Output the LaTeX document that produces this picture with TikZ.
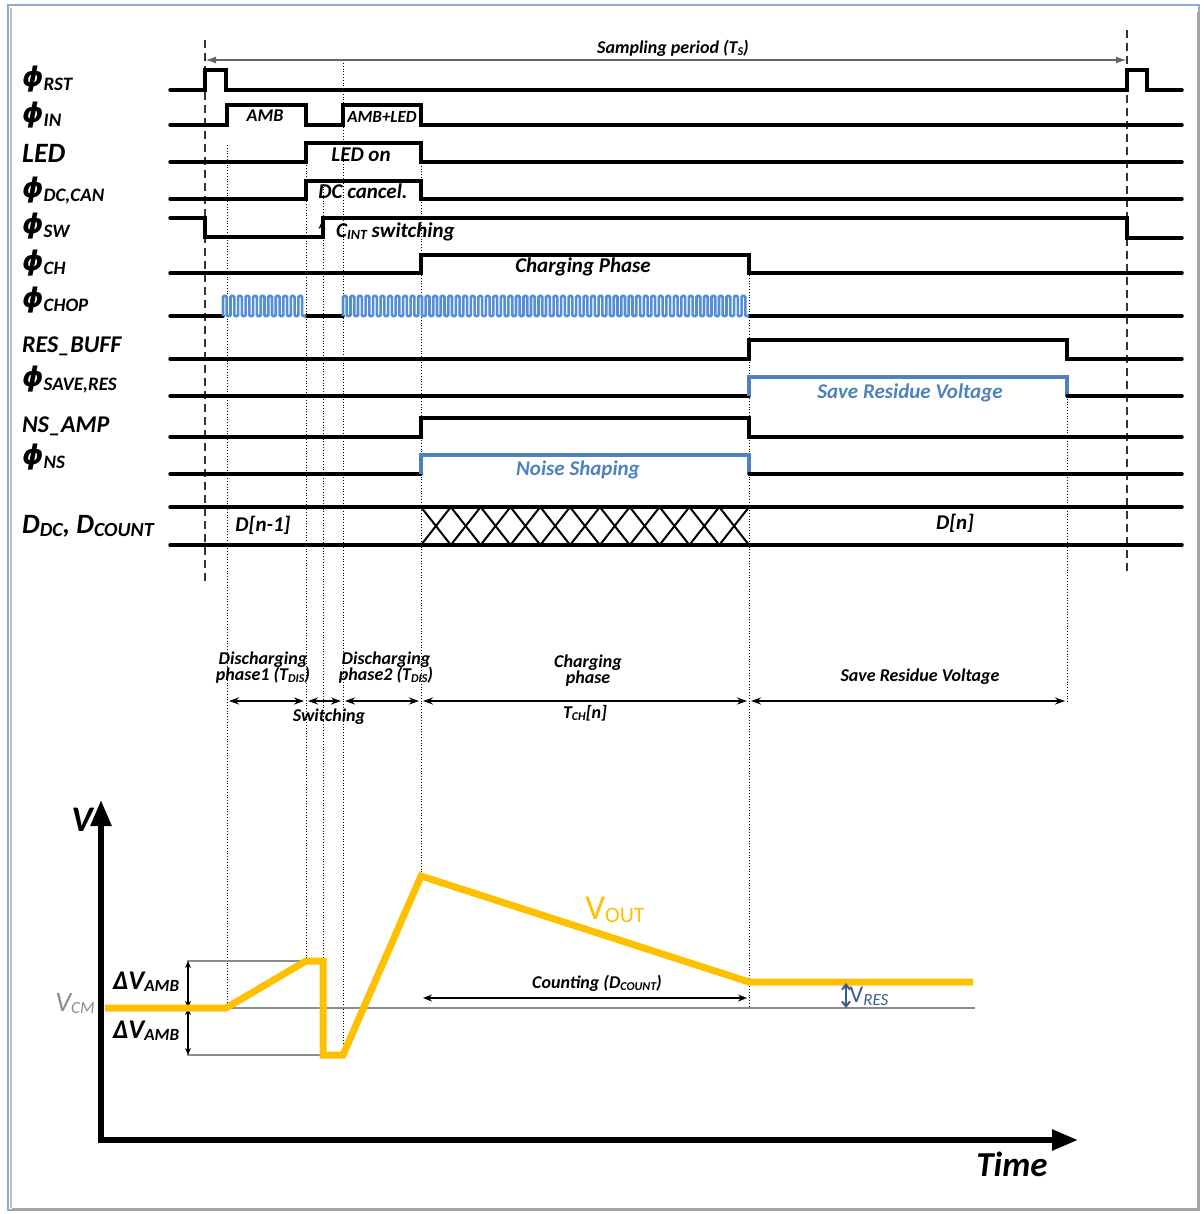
\documentclass[tikz,border=0pt]{standalone}
\usepackage{fontspec}
\setmainfont{Carlito}
\newfontfamily\phif{DejaVu Sans}
\usetikzlibrary{arrows.meta}
\definecolor{chopc}{RGB}{85,142,213}
\definecolor{blt}{RGB}{79,129,189}
\definecolor{yel}{RGB}{255,192,0}
\definecolor{grl}{RGB}{140,140,140}
\definecolor{vres}{RGB}{59,91,140}
\definecolor{frameb}{RGB}{143,170,210}
\newcommand\fs[1]{\fontsize{#1}{#1}\selectfont}
\newcommand\ph{{\phif\fs{27}\bfseries\itshape ϕ}}
\newcommand\sbx[1]{\raisebox{-4pt}{\fs{19}#1}}
\newcommand\ssb[2]{\raisebox{-2pt}{\fs{#1}#2}}
\begin{document}
\begin{tikzpicture}[x=1pt,y=-1pt,
  sig/.style={line width=3.5pt,black,line cap=round,line join=miter},
  bsig/.style={line width=3.2pt,blt,line join=miter},
  chopw/.style={line width=2.6pt,chopc,rounded corners=1pt},
  hatch/.style={line width=2pt,black},
  dotl/.style={line width=0.8pt,black,dotted},
  dashl/.style={line width=1.4pt,black!80,dash pattern=on 8pt off 5pt},
  rl/.style={anchor=base west,inner sep=0pt,font=\fs{26}\bfseries\itshape},
  it/.style={inner sep=0pt,font=\fs{21}\bfseries\itshape},
  pl/.style={inner sep=0pt,font=\fs{18}\bfseries\itshape,align=center},
  parr/.style={line width=2.2pt,{Stealth[length=10pt,width=7pt]}-{Stealth[length=10pt,width=7pt]},shorten <=2pt,shorten >=2pt},
  axis/.style={line width=5.5pt,-{Triangle[length=26pt,width=20pt]}},
  grayl/.style={line width=2.5pt,grl},
]
\useasboundingbox (0,0) rectangle (1203,1214);
% frame
\draw[line width=1.2pt,frameb] (8,5) rectangle (1199,1210);
\draw[line width=3pt,black!35] (1198,12) -- (1198,1209) -- (12,1209);
\draw[line width=2pt,black!25] (11,8) -- (11,1208);

% dashed period lines
\coordinate (ts0) at (205,60);
\coordinate (ts1) at (1127,60);
\draw[dashl] (205,40) -- (205,583);
\draw[dashl] (1127,30) -- (1127,572);
\draw[line width=1.8pt,black!60,{Latex[length=11pt,width=7pt]}-{Latex[length=11pt,width=7pt]}] (ts0) -- (ts1);
\node[pl] (tsl) at (673,48) {Sampling period (T\ssb{12}{S})};

% dotted vertical lines
\draw[dotl] (227,145) -- (227,1008);
\draw[dotl] (306,165) -- (306,958);
\draw[dotl] (323,181) -- (323,958);
\draw[dotl] (343,63) -- (343,1055);
\draw[dotl] (421,163) -- (421,877);
\draw[dotl] (749,275) -- (749,1007);
\draw[dotl] (1067,396) -- (1067,703);

% row labels
\node[rl] (lrst) at (22,87) {\ph\sbx{RST}};
\node[rl] (lin) at (22,123) {\ph\sbx{IN}};
\node[rl,font=\fs{28}\bfseries\itshape] (lled) at (22,163) {LED};
\node[rl] (ldc) at (22,198) {\ph\sbx{DC,CAN}};
\node[rl] (lsw) at (22,234) {\ph\sbx{SW}};
\node[rl] (lch) at (22,271) {\ph\sbx{CH}};
\node[rl] (lchop) at (22,308) {\ph\sbx{CHOP}};
\node[rl,font=\fs{24}\bfseries\itshape] (lres) at (22,352) {RES\_BUFF};
\node[rl] (lsave) at (22,386) {\ph\sbx{SAVE,RES}};
\node[rl,font=\fs{24}\bfseries\itshape] (lnsa) at (22,432) {NS\_AMP};
\node[rl] (lns) at (22,464) {\ph\sbx{NS}};
\node[rl,font=\fs{28}\bfseries\itshape] (ld) at (22,533) {D\raisebox{-3pt}{\fs{20}DC}, D\raisebox{-3pt}{\fs{20}COUNT}};

% signals
\draw[sig] (170,90) -- (205,90) -- (205,70) -- (226,70) -- (226,90) -- (1127,90) -- (1127,70) -- (1147,70) -- (1147,90) -- (1182,90);
\draw[sig] (170,125) -- (227,125) -- (227,105) -- (306,105) -- (306,125) -- (343,125) -- (343,105) -- (421,105) -- (421,125) -- (1182,125);
\draw[sig] (170,162) -- (306,162) -- (306,143) -- (421,143) -- (421,162) -- (1182,162);
\draw[sig] (170,199) -- (306,199) -- (306,181) -- (421,181) -- (421,199) -- (1182,199);
\draw[sig] (170,218) -- (205,218) -- (205,237) -- (323,237) -- (323,218) -- (1127,218) -- (1127,238) -- (1182,238);
\draw[sig] (170,273) -- (421,273) -- (421,255) -- (749,255) -- (749,273) -- (1182,273);
% chop
\draw[sig] (170,316) -- (223,316);
\draw[sig] (306,316) -- (343,316);
\draw[sig] (749,316) -- (1182,316);
\draw[chopw] (223,316) \foreach \i in {1,...,11} { -- ++(0,-20) -- ++(3.77,0) -- ++(0,20) -- ++(3.77,0) };
\draw[chopw] (343,316) \foreach \i in {1,...,54} { -- ++(0,-20) -- ++(3.76,0) -- ++(0,20) -- ++(3.76,0) };
% res buff
\draw[sig] (170,359) -- (749,359) -- (749,340) -- (1067,340) -- (1067,359) -- (1182,359);
% save res
\draw[sig] (170,396) -- (749,396);
\draw[bsig] (749,396) -- (749,377) -- (1067,377) -- (1067,396);
\draw[sig] (1067,396) -- (1182,396);
% ns amp
\draw[sig] (170,437) -- (421,437) -- (421,418) -- (749,418) -- (749,437) -- (1182,437);
% ns
\draw[sig] (170,474) -- (421,474);
\draw[bsig] (421,474) -- (421,455) -- (749,455) -- (749,474);
\draw[sig] (749,474) -- (1182,474);
% D bus
\foreach \k in {0,...,10} {
  \draw[hatch] ({421+\k*29.82},507) -- ({421+(\k+1)*29.82},545);
  \draw[hatch] ({421+\k*29.82},545) -- ({421+(\k+1)*29.82},507);
}
\draw[sig] (170,507) -- (1182,507);
\draw[sig] (170,545) -- (1182,545);

% in-row texts
\node[it,font=\fs{18}\bfseries\itshape] (tamb) at (265,116) {AMB};
\node[it,font=\fs{17}\bfseries\itshape] (tambled) at (382,117) {AMB+LED};
\node[it] (tledon) at (361,155) {LED on};
\node[it] (tdc) at (363,191) {DC cancel.};
\coordinate (swa0) at (322,238);
\coordinate (swa1) at (322,221);
\draw[line width=1.8pt,-{Stealth[length=8pt,width=7pt]}] (swa0) -- (swa1);
\node[it,anchor=base west] (tsw) at (336,238) {C\ssb{14}{INT} switching};
\node[it] (tch) at (583,267) {Charging Phase};
\node[it,blt] (tsave) at (910,393) {Save Residue Voltage};
\node[it,blt] (tns) at (578,470) {Noise Shaping};
\node[it] (tdn1) at (263,525) {D[n-1]};
\node[it] (tdn) at (955,523) {D[n]};

% phase labels
\node[pl] (pd1) at (263,668) {Discharging\\[-2pt]phase1 (T\ssb{12}{DIS})};
\node[pl] (pd2) at (386,668) {Discharging\\[-2pt]phase2 (T\ssb{12}{DIS})};
\node[pl] (pchg) at (588,671) {Charging\\[-2pt]phase};
\node[pl] (psave) at (920,677) {Save Residue Voltage};
\node[pl] (psw) at (329,717) {Switching};
\node[pl] (ptch) at (585,713) {T\ssb{12}{CH}[n]};
\coordinate (a0) at (227,701);
\coordinate (a1) at (306,701);
\coordinate (a2) at (343,701);
\coordinate (a3) at (421,701);
\coordinate (a4) at (749,701);
\coordinate (a5) at (1067,701);
\draw[parr] (a0) -- (a1);
\draw[parr] (a1) -- (a2);
\draw[parr] (a2) -- (a3);
\draw[parr] (a3) -- (a4);
\draw[parr] (a4) -- (a5);

% voltage plot
\coordinate (org) at (101,1140);
\coordinate (ytip) at (101,800);
\coordinate (xtip) at (1078,1140);
\draw[grayl] (187,961) -- (306,961);
\draw[grayl] (187,1055) -- (323,1055);
\draw[grayl] (105,1008) -- (975,1008);
\draw[line width=1.5pt,{Stealth[length=7pt,width=6pt]}-{Stealth[length=7pt,width=6pt]}] (188,961) -- (188,1008);
\draw[line width=1.5pt,{Stealth[length=7pt,width=6pt]}-{Stealth[length=7pt,width=6pt]}] (188,1008) -- (188,1055);
\draw[line width=7pt,yel,line join=miter] (105,1008) -- (226,1008) -- (306,961) -- (323,961) -- (323,1055) -- (343,1055) -- (421,876) -- (749,982) -- (973,982);
\draw[axis] (101,1143) -- (ytip);
\draw[axis] (98,1140) -- (xtip);
\draw[line width=1.5pt,{Stealth[length=9pt,width=7pt]}-{Stealth[length=9pt,width=7pt]}] (423,998) -- (747,998);
\draw[line width=2pt,vres,{Straight Barb[length=5pt,width=8pt]}-{Straight Barb[length=5pt,width=8pt]}] (846,983) -- (846,1008);

\node[inner sep=0pt,font=\fs{36}\bfseries\itshape] (lv) at (82,820) {V};
\node[inner sep=0pt,font=\fs{35}\bfseries\itshape] (ltime) at (1012,1164) {Time};
\node[inner sep=0pt,grl,font=\fs{28}\itshape] (lvcm) at (75,1004) {V\raisebox{-2pt}{\fs{17}CM}};
\node[inner sep=0pt,font=\fs{27}\bfseries\itshape] (ldv1) at (146,982) {ΔV\raisebox{-2pt}{\fs{17}AMB}};
\node[inner sep=0pt,font=\fs{27}\bfseries\itshape] (ldv2) at (146,1031) {ΔV\raisebox{-2pt}{\fs{17}AMB}};
\node[inner sep=0pt,yel,font=\fs{35}] (lvout) at (615,910) {V\raisebox{-3pt}{\fs{22}OUT}};
\node[pl] (lcnt) at (597,983) {Counting (D\ssb{12}{COUNT})};
\node[inner sep=0pt,vres,font=\fs{24}] (lvres) at (869,996) {V\raisebox{-3pt}{\fs{17}\itshape RES}};
\end{tikzpicture}
\end{document}
